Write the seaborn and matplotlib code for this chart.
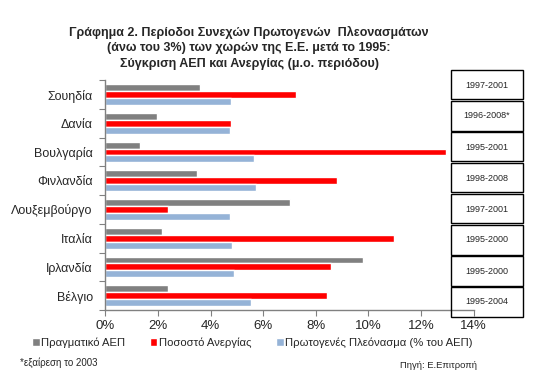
import pandas as pd
import seaborn as sns
import matplotlib.pyplot as plt
from matplotlib.patches import Rectangle
from matplotlib.ticker import PercentFormatter

# Δεδομένα (μ.ο. περιόδου, %)
countries = ['Σουηδία', 'Δανία', 'Βουλγαρία', 'Φινλανδία', 'Λουξεμβούργο', 'Ιταλία', 'Ιρλανδία', 'Βέλγιο']
gdp = [3.6, 1.97, 1.31, 3.49, 7.03, 2.16, 9.78, 2.40]
unemployment = [7.24, 4.76, 12.95, 8.81, 2.40, 10.97, 8.56, 8.41]
surplus = [4.76, 4.72, 5.66, 5.72, 4.72, 4.80, 4.89, 5.52]
periods = ['1997-2001', '1996-2008*', '1995-2001', '1998-2008', '1997-2001', '1995-2000', '1995-2000', '1995-2004']
series = ['Πραγματικό ΑΕΠ', 'Ποσοστό Ανεργίας', 'Πρωτογενές Πλεόνασμα (% του ΑΕΠ)']
colors = ['#808080', '#ff0000', '#95b3d7']

df = pd.DataFrame({'country': countries, series[0]: gdp, series[1]: unemployment, series[2]: surplus})
long = df.melt(id_vars='country', var_name='series', value_name='value')

sns.set_style('white')
plt.rcParams['font.family'] = ['Liberation Sans', 'DejaVu Sans']

fig = plt.figure(figsize=(5.6, 3.89), dpi=100)
ax = fig.add_axes([0.188, 0.203, 0.658, 0.591])

sns.barplot(data=long, x='value', y='country', hue='series', order=countries, hue_order=series,
            palette=colors, orient='h', width=0.72, saturation=1, ax=ax, legend=True)

ax.set_xlim(0, 14)
ax.set_xticks(range(0, 15, 2))
ax.xaxis.set_major_formatter(PercentFormatter(decimals=0))
ax.set_xlabel('')
ax.set_ylabel('')
ax.set_ylim(len(countries) - 0.5, -0.5)
ax.set_yticks([i - 0.5 for i in range(len(countries) + 1)], minor=False)
ax.set_yticklabels([''] * (len(countries) + 1))
ax.set_yticks(range(len(countries)), minor=True)
ax.set_yticklabels(countries, minor=True, fontsize=9)
ax.tick_params(axis='y', which='minor', length=0, pad=9)
ax.tick_params(axis='y', which='major', length=4, color='#808080', direction='out', left=True)
ax.tick_params(axis='x', length=4, color='#808080', direction='out', bottom=True, labelsize=9.5)
for s in ['top', 'right']:
    ax.spines[s].set_visible(False)
for s in ['left', 'bottom']:
    ax.spines[s].set_color('#808080')
    ax.spines[s].set_linewidth(1)

# Υπόμνημα
handles, labels = ax.get_legend_handles_labels()
ax.get_legend().remove()
fig.legend(handles, labels, loc='center', bbox_to_anchor=(0.45, 0.118), ncol=3, frameon=False,
           fontsize=8.1, handlelength=0.7, handleheight=0.7, handletextpad=0.1, columnspacing=2.2)

fig.text(0.445, 0.877, 'Γράφημα 2. Περίοδοι Συνεχών Πρωτογενών  Πλεονασμάτων\n'
         '(άνω του 3%) των χωρών της Ε.Ε. μετά το 1995:\n'
         'Σύγκριση ΑΕΠ και Ανεργίας (μ.ο. περιόδου)',
         ha='center', va='center', fontsize=9, fontweight='bold', linespacing=1.4)

# Περίοδοι σε πλαίσια
for i, p in enumerate(periods):
    top = 70 + i * 31
    fig.patches.append(Rectangle((451 / 560, 1 - (top + 29.5) / 389), 72 / 560, 29.5 / 389,
                                 transform=fig.transFigure, fill=False, edgecolor='black', linewidth=1))
    fig.text(487 / 560, 1 - (top + 15) / 389, p, ha='center', va='center', fontsize=6.5)

fig.text(0.035, 0.06, '*εξαίρεση το 2003', fontsize=7)
fig.text(0.715, 0.055, 'Πηγή: Ε.Επιτροπή', fontsize=6.8)

fig.savefig('out.png', dpi=100)
plt.close()
